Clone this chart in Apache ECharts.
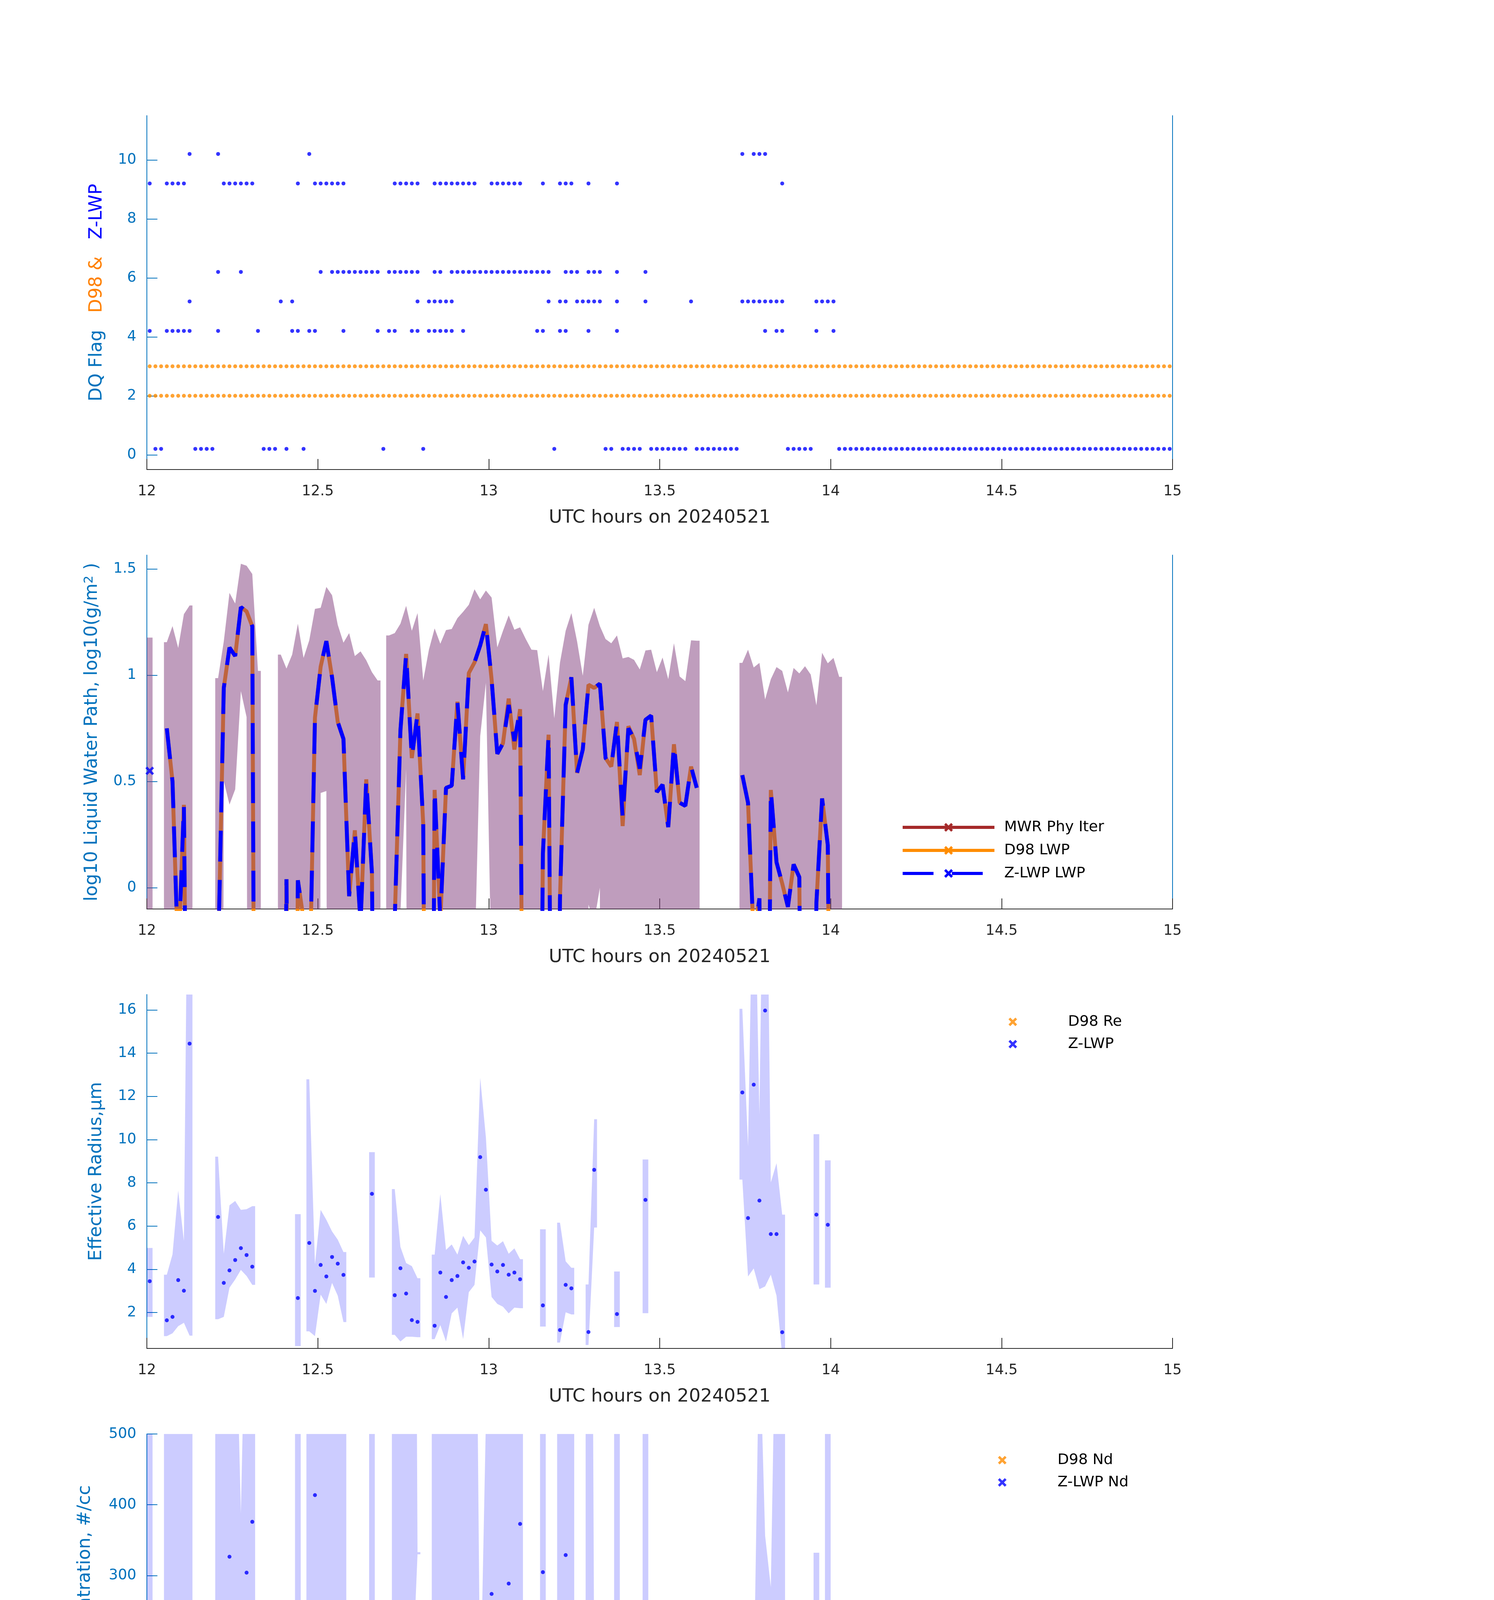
<!DOCTYPE html>
<html>
<head>
<meta charset="utf-8">
<script src="https://cdn.jsdelivr.net/npm/echarts@6/dist/echarts.min.js"></script>
<style>
html, body { margin: 0; background: #fff; }
#chart { width: 3825px; height: 6000px; }
</style>
</head>
<body>
<div id="chart"></div>
<script>
/* samples are one per minute after 12 UTC; m = minute index */
var T0 = 12;
function tMid(m) { return T0 + (m + 0.5) / 60; }
function tEdge(m) { return T0 + m / 60; }

/* Panel 1: DQ flags, runs of minutes [first, last] per flag level */
var flagLevels = [0.2, 4.2, 5.2, 6.2, 9.2, 10.2];
var flagRuns = [
    [[1,2],[8,11],[20,22],[24,24],[27,27],[41,41],[48,48],[71,71],[80,81],[83,86],[88,94],[96,103],[112,116],[121,179]],
    [[0,0],[3,7],[12,12],[19,19],[25,26],[28,29],[34,34],[40,40],[42,43],[46,47],[49,53],[55,55],[68,69],[72,73],[77,77],[82,82],[108,108],[110,111],[117,117],[120,120]],
    [[7,7],[23,23],[25,25],[47,47],[49,53],[70,70],[72,73],[75,79],[82,82],[87,87],[95,95],[104,111],[117,120]],
    [[12,12],[16,16],[30,30],[32,40],[42,47],[50,51],[53,70],[73,75],[77,79],[82,82],[87,87]],
    [[0,0],[3,6],[13,18],[26,26],[29,34],[43,47],[50,57],[60,65],[69,69],[72,74],[77,77],[82,82],[111,111]],
    [[7,7],[12,12],[28,28],[104,104],[106,108]]
];
var d98FlagLevels = [2, 3];
var d98FlagRuns = [[0, 179]];
var flagTicks = [0, 2, 4, 6, 8, 10];

/* Panel 2: log10 LWP, segments of consecutive minutes */
var lwpSegStart = [0, 3, 12, 23, 42, 104];
var lwpZ = [
    [0.55],
    [0.75, 0.50, -0.35, 0.39, -2.5],
    [-0.34, 0.94, 1.13, 1.09, 1.32, 1.30, 1.23, -5],
    [-3, 0.04, -3, 0.035, -0.15, -0.55, 0.80, 1.04, 1.16, 0.99, 0.78, 0.70, -0.04, 0.27, -0.17, 0.51, 0.07, -3],
    [-3, -0.15, 0.74, 1.10, 0.61, 0.82, 0.30, -4, 0.46, -0.15,
     0.47, 0.48, 0.875, 0.51, 1.01, 1.06, 1.14, 1.24, 0.98, 0.63,
     0.68, 0.86, 0.69, 0.84, -3, -3, -3, 0.16, 0.72, -3,
     -0.05, 0.86, 0.99, 0.54, 0.65, 0.955, 0.94, 0.96, 0.61, 0.57,
     0.78, 0.33, 0.75, 0.70, 0.56, 0.79, 0.81, 0.45, 0.485, 0.285,
     0.675, 0.40, 0.385, 0.57, 0.47],
    [0.53, 0.40, -0.24, -0.05, -3, 0.46, 0.12, 0.02, -0.09, 0.11, 0.05, -3, -3, -0.07, 0.42, 0.20, -3, -3]
];
var lwpD98 = [
    [null],
    [0.75, 0.50, -0.35, 0.39, -2.5],
    [-0.34, 0.94, 1.13, 1.09, 1.32, 1.30, 1.23, -5],
    [-3, 0.04, -3, 0.035, -0.15, -0.55, 0.80, 1.04, 1.16, 0.99, 0.78, 0.70, -0.04, 0.27, -0.17, 0.51, 0.07, -3],
    [-3, -0.15, 0.74, 1.10, 0.61, 0.82, 0.30, -4, 0.46, -0.15,
     0.47, 0.48, 0.875, 0.51, 1.01, 1.06, 1.14, 1.24, 0.98, 0.63,
     0.68, 0.89, 0.65, 0.84, -3, -3, -3, 0.16, 0.72, -3,
     -0.05, 0.86, 0.99, 0.54, 0.65, 0.955, 0.94, 0.96, 0.61, 0.57,
     0.78, 0.29, 0.76, 0.70, 0.53, 0.79, 0.81, 0.45, 0.485, 0.285,
     0.675, 0.40, 0.385, 0.57, 0.47],
    [0.53, 0.40, -0.24, -0.05, -3, 0.46, 0.12, 0.02, -0.09, 0.11, 0.05, -3, -3, -0.07, 0.42, 0.20, -3, -3]
];
var lwpHi = [
    [1.177],
    [1.155, 1.231, 1.128, 1.287, 1.328],
    [0.986, 1.159, 1.387, 1.337, 1.524, 1.515, 1.476, 1.020],
    [1.097, 1.031, 1.097, 1.242, 1.081, 1.164, 1.312, 1.317, 1.415, 1.376, 1.237, 1.153, 1.198, 1.090, 1.112, 1.070, 1.014, 0.975],
    [1.187, 1.198, 1.242, 1.326, 1.209, 1.292, 0.975, 1.120, 1.220, 1.148,
     1.212, 1.217, 1.268, 1.298, 1.331, 1.404, 1.357, 1.398, 1.365, 1.131,
     1.209, 1.281, 1.214, 1.225, 1.170, 1.120, 1.118, 0.925, 1.097, 0.797,
     1.059, 1.209, 1.292, 1.159, 0.997, 1.237, 1.317, 1.231, 1.170, 1.150,
     1.187, 1.079, 1.086, 1.072, 1.027, 1.116, 1.120, 1.014, 1.083, 0.981,
     1.150, 0.994, 0.972, 1.164, 1.162],
    [1.058, 1.120, 1.036, 1.058, 0.886, 0.981, 1.038, 1.020, 0.919, 1.034, 1.008, 1.042, 1.003, 0.858, 1.105, 1.056, 1.081, 0.992]
];
var lwpLo = [
    [-10],
    [-10, -10, -10, -10, -10],
    [-10, 0.502, 0.391, 0.463, 0.925, 0.803, -10, -10],
    [-10, -10, -10, -10, -10, -10, -10, 0.446, 0.455, -10, -10, -10, -10, -10, -10, -10, -10, -10],
    [-10, -10, -0.12, 0.558, -10, -10, -10, -10, -10, -10,
     -10, -10, -10, -10, -10, -0.37, 0.713, 0.964, -0.45, -10,
     -10, -10, -10, -10, -10, -10, -10, -10, -10, -10,
     -10, -10, -10, -10, -10, -0.08, -0.16, 0.0, -10, -10,
     -10, -10, -10, -10, -10, -10, -10, -10, -10, -10,
     -10, -10, -10, -10, -10],
    [-10, -10, -10, -10, -10, -10, -10, -10, -10, -10, -10, -10, -10, -10, -10, -10, -10, -10]
];
var lwpTicks = [0, 0.5, 1, 1.5];

/* Panels 3-5: retrievals share the same segments */
var retSegStart = [0, 3, 12, 26, 28, 39, 43, 50, 69, 72, 77, 82, 87, 104, 117, 119];

var reVal = [[3.45],[1.64,1.80,3.50,3.01,14.44],[6.42,3.37,3.95,4.43,4.98,4.66,4.12],[2.67],[5.22,3.00,4.20,3.67,4.57,4.26,3.74],[7.49],[2.80,4.05,2.88,1.65,1.57],
    [1.39,3.85,2.72,3.50,3.69,4.32,4.07,4.36,9.19,7.68,4.22,3.90,4.20,3.75,3.85,3.54],[2.33],[1.19,3.28,3.12],[1.10,8.60],[1.93],[7.21],[12.18,6.37,12.54,7.18,15.97,5.63,5.63,1.09],[6.53],[6.06]];
var reHi = [[4.99],[3.75,4.69,7.64,5.32,33],[9.21,4.72,6.96,7.16,6.75,6.78,6.92],[6.55],[12.79,4.24,6.75,6.29,5.75,5.37,4.80],[9.42],[7.71,5.04,4.29,4.15,3.59],
    [4.68,7.48,4.90,5.15,4.68,5.55,5.12,5.47,12.86,10.1,5.32,5.10,5.30,4.72,4.97,4.47],[5.85],[6.16,4.37,4.07],[3.30,10.94],[3.90],[9.08],[16.05,9.70,25,11.16,31,8.02,8.91,6.53],[10.25],[9.04]];
var reLo = [[1.80],[0.91,1.04,1.37,1.53,0.93],[1.69,1.80,3.15,3.53,3.97,3.69,3.28],[0.45],[1.13,0.91,2.83,2.40,3.37,2.78,1.56],[3.62],[0.97,0.66,0.88,0.88,0.86],
    [0.77,1.42,0.66,1.96,2.23,0.77,2.94,3.28,5.80,5.47,2.72,2.40,2.27,1.96,2.23,2.20],[1.35],[0.61,2.01,1.91],[0.50,5.93],[1.33],[1.97],[8.15,3.67,4.04,3.08,3.21,3.75,2.78,0.0],[3.30],[3.15]];
var reTicks = [2, 4, 6, 8, 10, 12, 14, 16];

var ndVal = [[220.7],[null,null,74.5,229.3,0.0],[4.0,null,326.6,222.7,149.2,304.1,375.9],[219.4],[2.3,413.6,209.5,null,156.9,135.7,186.0],[7.9],[71.8,158.5,null,null,null],
    [null,26.5,null,155.5,230.0,84.4,236.6,222.0,25.8,89.7,274.0,172.1,104.9,288.6,193.2,372.9],[304.8],[null,328.9,null],[null,31.1],[null],[29.8],[1.3,7.3,0.0,4.0,0.0,25.8,11.9,null],[5.3],[10.9]];
var ndHi = [[2000],[2000,2000,2000,2000,2000],[2000,2000,2000,720,388,770,2000],[2000],[2000,2000,2000,2000,2000,2000,2000],[2000],[2000,2000,2000,2000,333],
    [2000,2000,2000,2000,2000,2000,2000,1030,118,520,2000,2000,2000,2000,2000,2000],[2000],[2000,2000,2000],[2000,180],[2000],[2000],[15.6,215,139.6,650,356.4,283.6,760,2000],[332.2],[2000]];
var ndLo = [[50.3],[248.8,81.7,5.6,33.8,-20],[-20,78.4,11.6,12.2,24.8,31.4,16.5],[10.6],[-20,118.1,12.2,22.2,77.4,59.2,63.5],[3.3],[4.0,60.2,88.4,138,330],
    [91.7,5.6,56.9,37.1,96.6,30.4,118.1,110.9,4.0,28.8,134.7,52.0,43.7,116.5,59.2,124.8],[19.9],[22.2,123.1,199.2],[175.4,15.6],[226.7],[14.9],[-5,-5,-5,-5,-5,8.9,3.0,12.9],[1.3],[3.3]];
var ndTicks = [0, 100, 200, 300, 400, 500];

var odVal = [[1.574],[5.365,2.629,0.313,1.252,0.009],[0.134,3.979,5.294,4.158,6.483,6.376,6.179],[0.644],[0.045,3.174,4.283,6.099,3.237,2.173,2.084],[0.241],[0.349,1.923,6.751,3.854,6.465],
    [3.183,0.313,1.744,1.359,3.049,1.171,3.783,4.096,2.352,3.666,3.774,1.663,1.735,3.219,1.771,2.969],[1.019],[1.699,3.362,4.784],[12.787,1.520],[4.695],[1.297],[0.438,0.590,0.045,0.188,0.0,0.778,0.358,1.440],[0.215],[0.393]];
var odHi = [[10.73],[40,40,40,40,40],[6.036,7.645,11.714,8.942,12.117,12.653,13.6],[40],[40,15.6,9.166,13.32,10.42,8.763,8.271],[4.40],[40,12.13,40,40,40],
    [40,40,40,13.1,10.24,12.92,10.15,11.27,4.56,5.95,10.82,7.60,8.94,10.73,9.90,9.75],[9.57],[40,9.70,11.98],[40,4.92],[40],[4.66],[2.19,5.50,4.11,5.66,3.58,3.85,6.39,25],[3.33],[5.43]];
var odLo = [[1.10],[2.441,1.073,0.134,0.742,-0.5],[0.089,1.046,0.537,0.626,1.923,1.431,0.778],[0.268],[-0.5,2.28,0.626,0.715,2.566,1.726,1.636],[0.179],[0.134,1.52,1.386,1.636,2.969],
    [0.984,0.179,0.939,0.921,2.414,0.939,2.996,3.237,0.626,1.744,2.98,1.28,1.39,2.53,1.39,2.37],[0.447],[0.358,2.64,3.80],[0.563,1.207],[2.52],[1.028],[0.358,0.402,0.0,0.089,-0.06,0.537,0.224,0.268],[0.134],[0.268]];
var odTicks = [0, 2, 4, 6, 8, 10, 12];

var xName = 'UTC hours on 20240521';

/* styles */
var AX_BLUE = '#0072BD', AX_GREY = '#262626';
var C_ZLWP = '#0000FF', C_D98 = '#FF8C00', C_MWR = '#A52A2A';
var X_MARK = 'path://M2,0 L5,3 L8,0 L10,2 L7,5 L10,8 L8,10 L5,7 L2,10 L0,8 L3,5 L0,2 Z';
var gridTops = [296, 1421, 2546, 3671, 4796];

/* builders */
function runPoints(runs, level) {
    var out = [];
    runs.forEach(function (r) {
        for (var m = r[0]; m <= r[1]; m++) out.push([tMid(m), level]);
    });
    return out;
}
function segLine(segStart, vals) {
    var out = [];
    segStart.forEach(function (s, i) {
        vals[i].forEach(function (v, k) { out.push([tMid(s + k), v]); });
        out.push([tEdge(s + vals[i].length), null]);
    });
    return out;
}
function segPoints(segStart, vals) {
    var out = [];
    segStart.forEach(function (s, i) {
        vals[i].forEach(function (v, k) { if (v != null) out.push([tMid(s + k), v]); });
    });
    return out;
}
function isolatedPoints(segStart, vals) {
    var out = [];
    segStart.forEach(function (s, i) {
        var a = vals[i];
        a.forEach(function (v, k) {
            if (v != null && a[k - 1] == null && a[k + 1] == null) out.push([tMid(s + k), v]);
        });
    });
    return out;
}
function bandSeries(gi, segStart, hi, lo, color, z) {
    return {
        type: 'custom', name: 'band' + gi, xAxisIndex: gi, yAxisIndex: gi,
        z: z, clip: true, silent: true,
        data: segStart.map(function (s, i) { return [tEdge(s), 0, i]; }),
        renderItem: function (params, api) {
            var i = api.value(2), s = segStart[i], n = hi[i].length, k;
            var pts = [api.coord([tEdge(s), hi[i][0]])];
            for (k = 0; k < n; k++) pts.push(api.coord([tMid(s + k), hi[i][k]]));
            pts.push(api.coord([tEdge(s + n), hi[i][n - 1]]));
            pts.push(api.coord([tEdge(s + n), lo[i][n - 1]]));
            for (k = n - 1; k >= 0; k--) pts.push(api.coord([tMid(s + k), lo[i][k]]));
            pts.push(api.coord([tEdge(s), lo[i][0]]));
            return { type: 'polygon', shape: { points: pts }, style: { fill: color } };
        }
    };
}

/* axes */
var grids = [], xAxes = [], yAxes = [];
var yConf = [
    { min: -0.5, max: 11.5, ticks: flagTicks, gap: 105,
      name: '{a|DQ Flag}{s|   }{b|D98 &}{s|   }{c|Z-LWP}' },
    { min: -0.1, max: 1.565, ticks: lwpTicks, gap: 117,
      name: '{a|log10 Liquid Water Path, log10(g/m}{p|2}{a| )}' },
    { min: 0.34, max: 16.71, ticks: reTicks, gap: 106, name: '{a|Effective Radius,\u03bcm}' },
    { min: 0, max: 500, ticks: ndTicks, gap: 135, name: '{a|Droplet Concentration, #/cc}' },
    { min: -0.09, max: 13.43, ticks: odTicks, gap: 106, name: '{a|Optical Depth}' }
];
yConf.forEach(function (c, i) {
    grids.push({ left: 376, width: 2626, top: gridTops[i], height: 906 });
    xAxes.push({
        gridIndex: i, type: 'value', min: 12, max: 15, interval: 0.5,
        axisLine: { show: true, onZero: false, lineStyle: { color: AX_GREY, width: 2 } },
        axisTick: { show: true, inside: true, length: 27, lineStyle: { color: AX_GREY, width: 2 } },
        axisLabel: { color: AX_GREY, fontSize: 37, margin: 38 },
        splitLine: { show: false },
        name: xName, nameLocation: 'middle', nameGap: 100,
        nameTextStyle: { color: AX_GREY, fontSize: 47 }
    });
    yAxes.push({
        gridIndex: i, type: 'value', min: c.min, max: c.max, position: 'left',
        axisLine: { show: true, onZero: false, lineStyle: { color: AX_BLUE, width: 2 } },
        axisTick: { show: true, inside: true, length: 27, customValues: c.ticks, lineStyle: { color: AX_BLUE, width: 2 } },
        axisLabel: { color: AX_BLUE, fontSize: 37, margin: 27, customValues: c.ticks },
        splitLine: { show: false },
        name: c.name, nameLocation: 'middle', nameGap: c.gap, nameRotate: 90,
        nameTextStyle: {
            fontSize: 46,
            rich: {
                a: { color: AX_BLUE, fontSize: 46 },
                s: { fontSize: 46 },
                b: { color: '#FF8000', fontSize: 46 },
                c: { color: C_ZLWP, fontSize: 46 },
                p: { color: AX_BLUE, fontSize: 32, verticalAlign: 'top', lineHeight: 46 }
            }
        }
    });
});
[0, 1].forEach(function (i) {
    yAxes.push({
        gridIndex: i, type: 'value', min: yConf[i].min, max: yConf[i].max, position: 'right',
        axisLine: { show: true, onZero: false, lineStyle: { color: AX_BLUE, width: 2 } },
        axisTick: { show: false }, axisLabel: { show: false }, splitLine: { show: false }
    });
});

/* series */
var series = [];
d98FlagLevels.forEach(function (lv) {
    series.push({ type: 'scatter', name: 'd98flag' + lv, xAxisIndex: 0, yAxisIndex: 0,
        symbolSize: 10, itemStyle: { color: C_D98 }, data: runPoints(d98FlagRuns, lv), z: 2 });
});
flagLevels.forEach(function (lv, i) {
    series.push({ type: 'scatter', name: 'zflag' + lv, xAxisIndex: 0, yAxisIndex: 0,
        symbolSize: 10, itemStyle: { color: C_ZLWP }, data: runPoints(flagRuns[i], lv), z: 3 });
});

series.push({ type: 'line', name: 'MWR Phy Iter', xAxisIndex: 1, yAxisIndex: 1, data: [],
    symbol: X_MARK, showSymbol: false, itemStyle: { color: C_MWR }, lineStyle: { color: C_MWR, width: 10 } });
series.push({ type: 'line', name: 'D98 LWP', xAxisIndex: 1, yAxisIndex: 1, data: segLine(lwpSegStart, lwpD98),
    symbol: X_MARK, showSymbol: false, connectNulls: false, z: 2,
    itemStyle: { color: C_D98 }, lineStyle: { color: C_D98, width: 10 } });
series.push(bandSeries(1, lwpSegStart, lwpHi, lwpLo, 'rgba(128,60,124,0.5)', 3));
series.push({ type: 'line', name: 'Z-LWP LWP', xAxisIndex: 1, yAxisIndex: 1, data: segLine(lwpSegStart, lwpZ),
    symbol: X_MARK, showSymbol: false, connectNulls: false, z: 4,
    itemStyle: { color: C_ZLWP }, lineStyle: { color: C_ZLWP, width: 10, type: [79, 47], cap: 'butt' } });
series.push({ type: 'scatter', name: 'zlwpSingle', xAxisIndex: 1, yAxisIndex: 1, z: 5,
    symbol: X_MARK, symbolSize: 22, itemStyle: { color: C_ZLWP }, data: isolatedPoints(lwpSegStart, lwpZ) });

var retPanels = [
    { gi: 2, val: reVal, hi: reHi, lo: reLo, d98: 'D98 Re', z: 'Z-LWP' },
    { gi: 3, val: ndVal, hi: ndHi, lo: ndLo, d98: 'D98 Nd', z: 'Z-LWP Nd' },
    { gi: 4, val: odVal, hi: odHi, lo: odLo, d98: 'D98 OD', z: 'Z-LWP Nd' }
];
retPanels.forEach(function (p) {
    series.push(bandSeries(p.gi, retSegStart, p.hi, p.lo, 'rgba(0,0,255,0.2)', 2));
    series.push({ type: 'scatter', name: p.d98, xAxisIndex: p.gi, yAxisIndex: p.gi, data: [],
        symbolSize: 10, itemStyle: { color: C_D98 } });
    series.push({ type: 'scatter', name: p.z, xAxisIndex: p.gi, yAxisIndex: p.gi, z: 4,
        symbolSize: 10, itemStyle: { color: C_ZLWP }, data: segPoints(retSegStart, p.val) });
});

/* legends */
function markLegend(left, top, names) {
    return {
        left: left, top: top, orient: 'vertical', padding: 0, selectedMode: false,
        itemWidth: 235, itemHeight: 22, itemGap: 19, symbolKeepAspect: true,
        textStyle: { fontSize: 38, color: '#000', padding: [0, 0, 0, 19] },
        data: names.map(function (n) { return { name: n, icon: X_MARK }; })
    };
}
var legends = [
    {
        left: 2307, top: 2099, orient: 'vertical', padding: 0, selectedMode: false,
        itemWidth: 235, itemHeight: 28, itemGap: 21,
        textStyle: { fontSize: 38, color: '#000', padding: [0, 0, 0, 20] },
        lineStyle: { width: 8 },
        data: ['MWR Phy Iter', 'D98 LWP', 'Z-LWP LWP']
    },
    markLegend(2582, 2597, ['D98 Re', 'Z-LWP']),
    markLegend(2555, 3719, ['D98 Nd', 'Z-LWP Nd']),
    markLegend(2555, 4842, ['D98 OD', 'Z-LWP Nd'])
];

var chart = echarts.init(document.getElementById('chart'));
chart.setOption({
    backgroundColor: '#fff',
    animation: false,
    textStyle: { fontFamily: 'DejaVu Sans' },
    grid: grids,
    xAxis: xAxes,
    yAxis: yAxes,
    legend: legends,
    series: series
});
</script>
</body>
</html>
